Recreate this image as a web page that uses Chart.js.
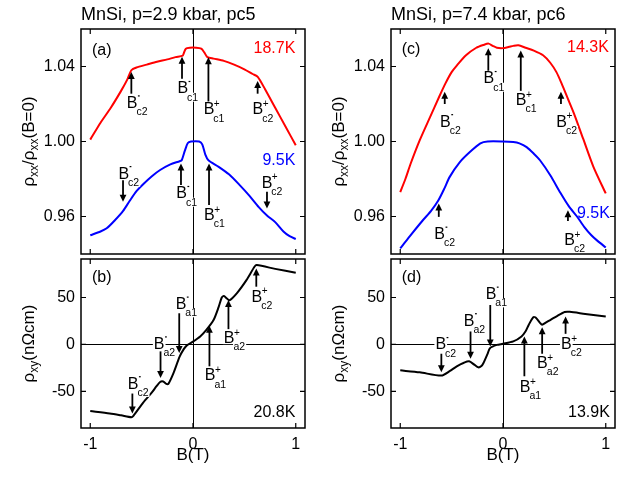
<!DOCTYPE html>
<html>
<head>
<meta charset="utf-8">
<script src="https://cdn.jsdelivr.net/npm/chart.js@4.4.1/dist/chart.umd.min.js"></script>
<style>
  body { margin: 0; background: #fff; }
  #wrap { position: relative; width: 630px; height: 477px; }
  #wrap canvas { position: absolute; left: 0; top: 0; }
</style>
</head>
<body>
<div id="wrap">
  <canvas id="panelA" width="630" height="477"></canvas>
  <canvas id="panelB" width="630" height="477"></canvas>
  <canvas id="panelC" width="630" height="477"></canvas>
  <canvas id="panelD" width="630" height="477"></canvas>
</div>
<script>
// ---- data ----
const xTicks = [-1, 0, 1];
const rhoxxTicks = [0.96, 1.00, 1.04];
const rhoxyTicks = [-50, 0, 50];

// (a) p=2.9 kbar, rho_xx / rho_xx(B=0)
const bRedA = [-1.00, -0.90, -0.80, -0.70, -0.64, -0.60, -0.55, -0.45, -0.35, -0.25, -0.17, -0.10, -0.09, -0.07, -0.03, 0.03, 0.08, 0.11, 0.14, 0.20, 0.30, 0.40, 0.50, 0.58, 0.63, 0.70, 0.80, 0.90, 1.00];
const rhoRedA = [1.001, 1.010, 1.018, 1.027, 1.033, 1.038, 1.0395, 1.041, 1.0425, 1.0438, 1.045, 1.0458, 1.047, 1.0495, 1.050, 1.050, 1.0495, 1.0475, 1.045, 1.0442, 1.043, 1.041, 1.0385, 1.036, 1.0345, 1.028, 1.018, 1.008, 0.998];
const bBlueA = [-1.00, -0.90, -0.84, -0.76, -0.68, -0.62, -0.55, -0.48, -0.40, -0.32, -0.22, -0.13, -0.11, -0.08, -0.05, -0.02, 0.06, 0.09, 0.12, 0.15, 0.25, 0.35, 0.45, 0.55, 0.64, 0.72, 0.80, 0.88, 0.94, 1.00];
const rhoBlueA = [0.950, 0.952, 0.9537, 0.958, 0.963, 0.968, 0.9735, 0.9775, 0.9815, 0.9848, 0.9878, 0.9895, 0.990, 0.995, 0.9992, 1.000, 1.000, 0.9985, 0.993, 0.990, 0.9865, 0.9825, 0.977, 0.971, 0.965, 0.9605, 0.957, 0.952, 0.9495, 0.948];

// (b) p=2.9 kbar, rho_xy (nOhm cm), 20.8K
const bHallB = [-1.00, -0.81, -0.70, -0.60, -0.58, -0.485, -0.40, -0.355, -0.32, -0.29, -0.26, -0.24, -0.19, -0.13, -0.09, -0.06, 0.00, 0.07, 0.13, 0.20, 0.25, 0.28, 0.30, 0.33, 0.355, 0.43, 0.52, 0.60, 0.62, 0.80, 1.00];
const rhoHallB = [-71, -73.5, -75.5, -77.5, -76, -62, -51, -44.5, -40, -39.5, -42, -42, -30.5, -13, -5, -1, 3, 8.5, 15.5, 26, 40, 50, 51.5, 49, 47, 55, 68.5, 83, 84.5, 80.5, 76.3];

// (c) p=7.4 kbar, rho_xx / rho_xx(B=0)
const bRedC = [-1.00, -0.95, -0.90, -0.81, -0.71, -0.62, -0.56, -0.50, -0.45, -0.36, -0.26, -0.19, -0.14, -0.10, -0.06, 0.00, 0.06, 0.10, 0.15, 0.22, 0.30, 0.39, 0.46, 0.52, 0.57, 0.63, 0.69, 0.78, 0.88, 1.00];
const rhoRedC = [0.973, 0.980, 0.988, 1.0007, 1.013, 1.024, 1.031, 1.037, 1.0405, 1.046, 1.050, 1.0515, 1.0522, 1.051, 1.050, 1.0498, 1.0505, 1.051, 1.0513, 1.050, 1.0485, 1.046, 1.042, 1.037, 1.031, 1.023, 1.015, 1.0015, 0.9865, 0.9723];
const bBlueC = [-1.00, -0.91, -0.78, -0.70, -0.63, -0.57, -0.52, -0.42, -0.32, -0.22, -0.15, 0.00, 0.10, 0.16, 0.23, 0.30, 0.36, 0.46, 0.56, 0.64, 0.72, 0.79, 0.86, 0.92, 1.00];
const rhoBlueC = [0.943, 0.9493, 0.958, 0.963, 0.9685, 0.975, 0.981, 0.989, 0.9945, 0.999, 1.000, 1.000, 0.9997, 0.999, 0.997, 0.9935, 0.990, 0.982, 0.9725, 0.9655, 0.960, 0.9545, 0.950, 0.947, 0.9435];

// (d) p=7.4 kbar, rho_xy (nOhm cm), 13.9K
const bHallD = [-1.00, -0.81, -0.60, -0.52, -0.45, -0.38, -0.33, -0.28, -0.24, -0.21, -0.19, -0.15, -0.127, -0.06, 0.00, 0.10, 0.18, 0.22, 0.25, 0.295, 0.32, 0.36, 0.38, 0.42, 0.46, 0.53, 0.60, 0.65, 0.80, 1.00];
const rhoHallD = [-27.6, -29.7, -33.2, -28.5, -23.3, -19.5, -18, -21.5, -24.4, -23, -19.8, -10, -4, -0.5, 0.7, 3.2, 8.5, 14, 20.8, 29, 28.5, 23, 21, 23.5, 26, 30.5, 34.6, 34.8, 32.5, 29.7];

// ---- arrow annotations (field, arrow tail, arrow head, label position) ----
const marksA = [
  { b: -0.60, tail: 1.0255, head: 1.0371, lb: -0.593, lv: 1.021, sup: '-', sub: 'c2' },
  { b: -0.107, tail: 1.0335, head: 1.0452, lb: -0.10, lv: 1.0287, sup: '-', sub: 'c1' },
  { b: 0.15, tail: 1.0211, head: 1.0450, lb: 0.156, lv: 1.0176, sup: '+', sub: 'c1' },
  { b: 0.629, tail: 1.0255, head: 1.0323, lb: 0.632, lv: 1.0176, sup: '+', sub: 'c2' },
  { b: -0.681, tail: 0.9794, head: 0.9679, lb: -0.674, lv: 0.9833, sup: '-', sub: 'c2' },
  { b: -0.117, tail: 0.9768, head: 0.9883, lb: -0.111, lv: 0.9727, sup: '-', sub: 'c1' },
  { b: 0.156, tail: 0.9661, head: 0.9883, lb: 0.16, lv: 0.9612, sup: '+', sub: 'c1' },
  { b: 0.72, tail: 0.9732, head: 0.9643, lb: 0.72, lv: 0.9785, sup: '+', sub: 'c2' }
];
const marksB = [
  { b: -0.59, tail: -52.3, head: -73.5, lb: -0.583, lv: -41, sup: '-', sub: 'c2' },
  { b: -0.316, tail: -7.4, head: -35.7, lb: -0.329, lv: 1.4, sup: '-', sub: 'a2' },
  { b: -0.134, tail: 33.2, head: -9.2, lb: -0.117, lv: 43.8, sup: '-', sub: 'a1' },
  { b: 0.16, tail: -23.3, head: 19.8, lb: 0.166, lv: -32.2, sup: '+', sub: 'a1' },
  { b: 0.345, tail: 16.3, head: 47.3, lb: 0.352, lv: 7.8, sup: '+', sub: 'a2' },
  { b: 0.616, tail: 61.5, head: 80.9, lb: 0.622, lv: 51.6, sup: '+', sub: 'c2' }
];
const marksC = [
  { b: -0.143, tail: 1.0374, head: 1.0498, lb: -0.137, lv: 1.034, sup: '-', sub: 'c1' },
  { b: 0.173, tail: 1.027, head: 1.0486, lb: 0.176, lv: 1.0225, sup: '+', sub: 'c1' },
  { b: -0.567, tail: 1.0200, head: 1.0266, lb: -0.56, lv: 1.011, sup: '-', sub: 'c2' },
  { b: 0.564, tail: 1.0200, head: 1.0266, lb: 0.57, lv: 1.011, sup: '+', sub: 'c2' },
  { b: -0.625, tail: 0.9598, head: 0.967, lb: -0.616, lv: 0.951, sup: '-', sub: 'c2' },
  { b: 0.632, tail: 0.9576, head: 0.9633, lb: 0.648, lv: 0.9479, sup: '+', sub: 'c2' }
];
const marksD = [
  { b: -0.60, tail: -9.9, head: -29.7, lb: -0.606, lv: 0.7, sup: '-', sub: 'c2' },
  { b: -0.316, tail: 13.8, head: -15.2, lb: -0.329, lv: 26.1, sup: '-', sub: 'a2' },
  { b: -0.124, tail: 42, head: -2.1, lb: -0.117, lv: 54.4, sup: '-', sub: 'a1' },
  { b: 0.208, tail: -33.9, head: 8.5, lb: 0.215, lv: -44.5, sup: '+', sub: 'a1' },
  { b: 0.381, tail: -9.9, head: 18.4, lb: 0.384, lv: -19.1, sup: '+', sub: 'a2' },
  { b: 0.609, tail: 11.3, head: 29.7, lb: 0.616, lv: 1.4, sup: '+', sub: 'c2' }
];

const FONT = '"Liberation Sans", Arial, sans-serif';
const RED = 'rgb(255, 0, 0)';
const BLUE = 'rgb(0, 0, 255)';

function pts(xs, ys) {
  return xs.map((v, i) => ({ x: v, y: ys[i] }));
}

function drawArrow(ctx, x, y1, y2) {
  const dir = y2 < y1 ? -1 : 1;
  ctx.lineWidth = 1.8;
  ctx.beginPath();
  ctx.moveTo(x, y1);
  ctx.lineTo(x, y2 - dir * 5);
  ctx.stroke();
  ctx.beginPath();
  ctx.moveTo(x, y2);
  ctx.lineTo(x - 3.4, y2 - dir * 7);
  ctx.lineTo(x + 3.4, y2 - dir * 7);
  ctx.closePath();
  ctx.fill();
}

function drawBLabel(ctx, x, y, sup, sub) {
  ctx.font = '16px ' + FONT;
  const w = ctx.measureText('B').width;
  ctx.font = '10.5px ' + FONT;
  const sw = ctx.measureText(sub).width;
  ctx.fillStyle = '#fff';
  ctx.fillRect(x - w / 2 - 1, y - 7, w + 2, 14);
  ctx.fillRect(x + w / 2 - 1.5, y + 5, sw + 1.5, 9);
  ctx.fillStyle = '#000';
  ctx.textAlign = 'left';
  ctx.textBaseline = 'alphabetic';
  ctx.font = '16px ' + FONT;
  ctx.fillText('B', x - w / 2, y + 5.7);
  ctx.font = '10.5px ' + FONT;
  ctx.fillText(sub, x + w / 2 - 1, y + 13);
  if (sup === '+') {
    ctx.font = '10px ' + FONT;
    ctx.fillText('+', x + w / 2 - 0.5, y - 1.5);
  } else {
    ctx.fillRect(x + w / 2 + 0.5, y - 6.8, 1.8, 1.2);
  }
}

// rotated axis title with subscripts
function drawRich(ctx, parts, cx, cy) {
  let total = 0;
  parts.forEach(p => { ctx.font = p.size + 'px ' + FONT; p.w = ctx.measureText(p.t).width; total += p.w; });
  ctx.save();
  ctx.translate(cx, cy);
  ctx.rotate(-Math.PI / 2);
  ctx.textAlign = 'left';
  ctx.textBaseline = 'alphabetic';
  ctx.fillStyle = '#000';
  let u = -total / 2;
  parts.forEach(p => {
    ctx.font = p.size + 'px ' + FONT;
    ctx.fillText(p.t, u, 6 + p.dy);
    u += p.w;
  });
  ctx.restore();
}

const panelPlugin = {
  id: 'panel',
  beforeDatasetsDraw(chart, args, o) {
    const { ctx, chartArea: a, scales: { x, y } } = chart;
    ctx.save();
    ctx.strokeStyle = '#000';
    ctx.lineWidth = 1;
    const x0 = Math.round(x.getPixelForValue(0)) + 0.5;
    ctx.beginPath();
    ctx.moveTo(x0, a.top);
    ctx.lineTo(x0, a.bottom);
    if (o.zeroLine) {
      const y0 = Math.round(y.getPixelForValue(0)) + 0.5;
      ctx.moveTo(a.left, y0);
      ctx.lineTo(a.right, y0);
    }
    ctx.stroke();
    ctx.restore();
  },
  afterDatasetsDraw(chart, args, o) {
    const { ctx, scales: { x, y } } = chart;
    ctx.save();
    ctx.fillStyle = '#000';
    ctx.strokeStyle = '#000';
    o.marks.forEach(m => {
      drawArrow(ctx, x.getPixelForValue(m.b), y.getPixelForValue(m.tail), y.getPixelForValue(m.head));
    });
    o.marks.forEach(m => {
      drawBLabel(ctx, x.getPixelForValue(m.lb), y.getPixelForValue(m.lv), m.sup, m.sub);
    });
    ctx.restore();
  },
  afterDraw(chart, args, o) {
    const { ctx, chartArea: a, scales: { x, y } } = chart;
    ctx.save();
    // frame
    ctx.strokeStyle = '#000';
    ctx.lineWidth = 1.5;
    ctx.strokeRect(a.left, a.top, a.right - a.left, a.bottom - a.top);
    // inward ticks
    ctx.lineWidth = 1.2;
    ctx.beginPath();
    o.yTicks.forEach(v => {
      const py = y.getPixelForValue(v);
      ctx.moveTo(a.left, py); ctx.lineTo(a.left + 5, py);
      ctx.moveTo(a.right, py); ctx.lineTo(a.right - 5, py);
    });
    xTicks.forEach(v => {
      const px = x.getPixelForValue(v);
      ctx.moveTo(px, a.top); ctx.lineTo(px, a.top + 5);
      ctx.moveTo(px, a.bottom); ctx.lineTo(px, a.bottom - 5);
    });
    ctx.stroke();
    // texts
    ctx.textBaseline = 'alphabetic';
    ctx.font = '16px ' + FONT;
    ctx.fillStyle = '#000';
    ctx.textAlign = 'left';
    ctx.fillText(o.letter, x.getPixelForValue(o.letterPos[0]), y.getPixelForValue(o.letterPos[1]) + 5.7);
    ctx.textAlign = 'right';
    o.temps.forEach(t => {
      ctx.fillStyle = t.color;
      ctx.fillText(t.text, x.getPixelForValue(t.b), y.getPixelForValue(t.v) + 5.7);
    });
    ctx.fillStyle = '#000';
    if (o.title) {
      ctx.font = '18px ' + FONT;
      ctx.textAlign = 'left';
      ctx.fillText(o.title, a.left, 19.5);
    }
    if (o.xTitle) {
      ctx.font = '17px ' + FONT;
      ctx.textAlign = 'center';
      ctx.fillText(o.xTitle, (a.left + a.right) / 2, 460);
    }
    drawRich(ctx, o.yTitle, a.left - 53, (a.top + a.bottom) / 2);
    ctx.restore();
  }
};

const rhoxxTitle = [
  { t: 'ρ', size: 17, dy: 0 }, { t: 'xx', size: 12, dy: 4 },
  { t: '/ρ', size: 17, dy: 0 }, { t: 'xx', size: 12, dy: 4 },
  { t: '(B=0)', size: 17, dy: 0 }
];
const rhoxyTitle = [
  { t: 'ρ', size: 17, dy: 0 }, { t: 'xy', size: 12, dy: 4 },
  { t: '(nΩcm)', size: 17, dy: 0 }
];

function makePanel(id, cfg) {
  const tickFont = { family: FONT, size: 16 };
  return new Chart(document.getElementById(id), {
    type: 'line',
    data: { datasets: cfg.datasets },
    options: {
      responsive: false,
      animation: false,
      events: [],
      layout: { padding: cfg.padding },
      elements: { point: { radius: 0 }, line: { tension: 0.25, borderWidth: 2 } },
      plugins: {
        legend: { display: false },
        tooltip: { enabled: false },
        panel: cfg.panel
      },
      scales: {
        x: {
          type: 'linear', min: -1.09, max: 1.09,
          display: cfg.showX,
          grid: { display: false, drawTicks: false },
          border: { display: false },
          afterBuildTicks: s => { s.ticks = xTicks.map(v => ({ value: v })); },
          afterFit: s => { s.height = cfg.showX ? 40 : 0; },
          ticks: { font: tickFont, color: '#000', padding: 7, maxRotation: 0, autoSkip: false,
                   callback: v => String(v) }
        },
        y: {
          type: 'linear', min: cfg.yMin, max: cfg.yMax,
          grid: { display: false, drawTicks: false },
          border: { display: false },
          afterBuildTicks: s => { s.ticks = cfg.yTicks.map(v => ({ value: v })); },
          afterFit: s => { s.width = 60; },
          ticks: { font: tickFont, color: '#000', padding: 6, autoSkip: false, callback: cfg.yFormat }
        }
      }
    },
    plugins: [panelPlugin]
  });
}

const fmtXX = v => v.toFixed(2);
const fmtXY = v => String(v);

makePanel('panelA', {
  datasets: [
    { data: pts(bRedA, rhoRedA), borderColor: RED },
    { data: pts(bBlueA, rhoBlueA), borderColor: BLUE }
  ],
  padding: { left: 21, right: 325, top: 29, bottom: 223 },
  showX: false, yMin: 0.94, yMax: 1.06, yTicks: rhoxxTicks, yFormat: fmtXX,
  panel: {
    marks: marksA, yTicks: rhoxxTicks, letter: '(a)', letterPos: [-0.983, 1.0491],
    temps: [{ text: '18.7K', color: RED, b: 0.996, v: 1.0503 }, { text: '9.5K', color: BLUE, b: 0.996, v: 0.9906 }],
    title: 'MnSi, p=2.9 kbar, pc5', yTitle: rhoxxTitle
  }
});

makePanel('panelB', {
  datasets: [{ data: pts(bHallB, rhoHallB), borderColor: '#000' }],
  padding: { left: 21, right: 325, top: 259, bottom: 9 },
  showX: true, yMin: -89, yMax: 91, yTicks: rhoxyTicks, yFormat: fmtXY,
  panel: {
    marks: marksB, yTicks: rhoxyTicks, zeroLine: true, letter: '(b)', letterPos: [-0.983, 73.1],
    temps: [{ text: '20.8K', color: '#000', b: 0.996, v: -71.6 }],
    xTitle: 'B(T)', yTitle: rhoxyTitle
  }
});

makePanel('panelC', {
  datasets: [
    { data: pts(bRedC, rhoRedC), borderColor: RED },
    { data: pts(bBlueC, rhoBlueC), borderColor: BLUE }
  ],
  padding: { left: 331, right: 15, top: 29, bottom: 223 },
  showX: false, yMin: 0.94, yMax: 1.06, yTicks: rhoxxTicks, yFormat: fmtXX,
  panel: {
    marks: marksC, yTicks: rhoxxTicks, letter: '(c)', letterPos: [-0.986, 1.0499],
    temps: [{ text: '14.3K', color: RED, b: 1.03, v: 1.0507 }, { text: '9.5K', color: BLUE, b: 1.04, v: 0.962 }],
    title: 'MnSi, p=7.4 kbar, pc6', yTitle: rhoxxTitle
  }
});

makePanel('panelD', {
  datasets: [{ data: pts(bHallD, rhoHallD), borderColor: '#000' }],
  padding: { left: 331, right: 15, top: 259, bottom: 9 },
  showX: true, yMin: -89, yMax: 91, yTicks: rhoxyTicks, yFormat: fmtXY,
  panel: {
    marks: marksD, yTicks: rhoxyTicks, zeroLine: true, letter: '(d)', letterPos: [-0.986, 73.1],
    temps: [{ text: '13.9K', color: '#000', b: 1.04, v: -71.6 }],
    xTitle: 'B(T)', yTitle: rhoxyTitle
  }
});
</script>
</body>
</html>
